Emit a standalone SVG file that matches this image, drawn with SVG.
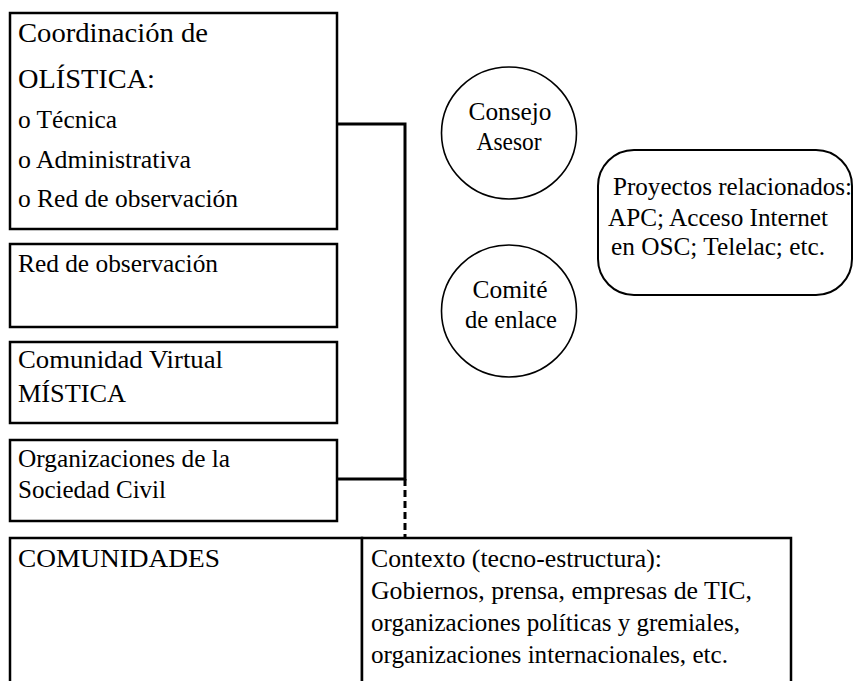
<svg xmlns="http://www.w3.org/2000/svg" width="853" height="681" viewBox="0 0 853 681">
<style>
.box{fill:#fff;stroke:#000;stroke-width:2.5}
.circ{fill:#fff;stroke:#000;stroke-width:1.6}
.round{fill:#fff;stroke:#000;stroke-width:2}
.t{font-size:25px;fill:#000}
.big{font-size:28px}
.mid{text-anchor:middle}
.con{fill:none;stroke:#000;stroke-width:3}
.dash{fill:none;stroke:#000;stroke-width:3;stroke-dasharray:7 4}
</style>
<rect width="853" height="681" fill="#fff"/>
<g id="connectors">
<path class="con" d="M337,124 H405 V479 H337"/>
<path class="dash" d="M405,479 V538"/>
</g>
<g font-family="Liberation Serif, Tinos, DejaVu Serif, Noto Serif, Times New Roman, serif">
<g id="coordinacion">
<rect class="box" x="10" y="13" width="327" height="216"/>
<text class="t big" x="18" y="42" textLength="190" lengthAdjust="spacingAndGlyphs">Coordinación de</text>
<text class="t big" x="18" y="88" textLength="137" lengthAdjust="spacingAndGlyphs">OLÍSTICA:</text>
<text class="t" x="18" y="128" textLength="99" lengthAdjust="spacingAndGlyphs">o Técnica</text>
<text class="t" x="18" y="168" textLength="173" lengthAdjust="spacingAndGlyphs">o Administrativa</text>
<text class="t" x="18" y="207" textLength="220" lengthAdjust="spacingAndGlyphs">o Red de observación</text>
</g>
<g id="red">
<rect class="box" x="10" y="244" width="327" height="83"/>
<text class="t" x="18" y="272" textLength="200" lengthAdjust="spacingAndGlyphs">Red de observación</text>
</g>
<g id="comunidad">
<rect class="box" x="10" y="342" width="327" height="81"/>
<text class="t" x="18" y="368" textLength="205" lengthAdjust="spacingAndGlyphs">Comunidad Virtual</text>
<text class="t" x="18" y="402" textLength="108" lengthAdjust="spacingAndGlyphs">MÍSTICA</text>
</g>
<g id="osc">
<rect class="box" x="10" y="440" width="327" height="81"/>
<text class="t" x="18" y="467" textLength="212" lengthAdjust="spacingAndGlyphs">Organizaciones de la</text>
<text class="t" x="18" y="498" textLength="148" lengthAdjust="spacingAndGlyphs">Sociedad Civil</text>
</g>
<g id="comunidades">
<rect class="box" x="10" y="538" width="352" height="160"/>
<text class="t" x="18" y="567" textLength="202" lengthAdjust="spacingAndGlyphs">COMUNIDADES</text>
</g>
<g id="contexto">
<rect class="box" x="362" y="538" width="429" height="160"/>
<text class="t" x="371" y="567" textLength="291" lengthAdjust="spacingAndGlyphs">Contexto (tecno-estructura):</text>
<text class="t" x="371" y="599" textLength="381" lengthAdjust="spacingAndGlyphs">Gobiernos, prensa, empresas de TIC,</text>
<text class="t" x="371" y="631" textLength="369" lengthAdjust="spacingAndGlyphs">organizaciones políticas y gremiales,</text>
<text class="t" x="371" y="663" textLength="357" lengthAdjust="spacingAndGlyphs">organizaciones internacionales, etc.</text>
</g>
<g id="consejo">
<ellipse class="circ" cx="509" cy="133" rx="67.5" ry="66"/>
<text class="t mid" x="510" y="120" textLength="83" lengthAdjust="spacingAndGlyphs">Consejo</text>
<text class="t mid" x="509" y="150" textLength="65" lengthAdjust="spacingAndGlyphs">Asesor</text>
</g>
<g id="comite">
<ellipse class="circ" cx="509" cy="311" rx="67.5" ry="66"/>
<text class="t mid" x="510" y="298" textLength="75" lengthAdjust="spacingAndGlyphs">Comité</text>
<text class="t mid" x="511" y="328" textLength="92" lengthAdjust="spacingAndGlyphs">de enlace</text>
</g>
<g id="proyectos">
<rect class="round" x="598" y="150" width="254" height="145" rx="36" ry="36"/>
<text class="t" x="613" y="195" textLength="239" lengthAdjust="spacingAndGlyphs">Proyectos relacionados:</text>
<text class="t" x="608" y="226" textLength="220" lengthAdjust="spacingAndGlyphs">APC; Acceso Internet</text>
<text class="t" x="611" y="255" textLength="214" lengthAdjust="spacingAndGlyphs">en OSC; Telelac; etc.</text>
</g>
</g>
</svg>
